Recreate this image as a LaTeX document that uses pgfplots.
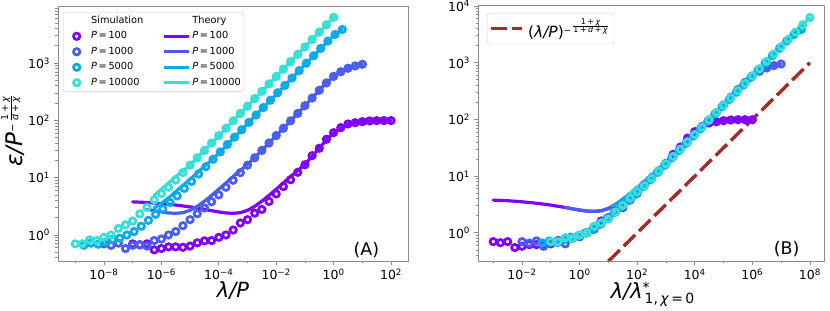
\documentclass[border=0pt]{standalone}
\usepackage{fontspec}
\setmainfont{DejaVu Sans}
\usepackage{pgfplots}
\usepackage{pgfplotstable}
\pgfplotsset{compat=1.18}

\definecolor{cA}{HTML}{8000FF}
\definecolor{cB}{HTML}{4A5CF7}
\definecolor{cC}{HTML}{0AA8EC}
\definecolor{cD}{HTML}{35E0D6}
\definecolor{brn}{HTML}{A52A2A}
\definecolor{spine}{HTML}{8C8C8C}

% small stacked fraction: raise, font size, numerator, denominator
\newcommand{\stfrac}[4]{\raisebox{#1}{\fontsize{#2}{#2}\selectfont\renewcommand\arraystretch{0.9}\setlength{\arrayrulewidth}{0.5bp}\begin{tabular}{@{}c@{}}#3\\\hline #4\end{tabular}}}

% simulations: lx = log10(lambda/P), y = error
\pgfplotstableread{
lx y
-7.00 0.70
-6.75 0.67
-6.50 0.70
-6.25 0.55
-6.00 0.58
-5.75 0.62
-5.50 0.62
-5.25 0.61
-5.00 0.64
-4.75 0.73
-4.50 0.79
-4.25 0.80
-4.00 0.91
-3.75 1.00
-3.50 1.22
-3.25 1.62
-3.00 1.85
-2.75 2.40
-2.50 2.80
-2.25 3.85
-2.00 5.20
-1.75 7.00
-1.50 9.20
-1.25 12.4
-1.00 16.8
-0.75 24.2
-0.50 32.6
-0.25 46.8
0.00 61.0
0.25 74.6
0.50 86.5
0.75 91.0
1.00 95.0
1.25 97.7
1.50 98.8
1.75 99.0
2.00 99.0
}\simA
\pgfplotstableread{
lx y
-8.00 0.70
-7.75 0.66
-7.50 0.72
-7.25 0.58
-7.00 0.66
-6.75 0.68
-6.50 0.64
-6.25 0.80
-6.00 0.85
-5.75 1.00
-5.50 1.15
-5.25 1.45
-5.00 1.85
-4.75 2.35
-4.50 2.95
-4.25 3.80
-4.00 5.00
-3.75 6.80
-3.50 9.00
-3.25 12.2
-3.00 16.5
-2.75 22.2
-2.50 29.9
-2.25 40.2
-2.00 54.1
-1.75 72.8
-1.50 98.0
-1.25 132
-1.00 180
-0.75 245
-0.50 335
-0.25 450
0.00 585
0.25 705
0.50 810
0.75 890
1.00 950
}\simB
\pgfplotstableread{
lx y
-8.70 0.66
-8.45 0.72
-8.20 0.69
-7.95 0.75
-7.70 0.84
-7.45 0.88
-7.20 1.00
-6.95 1.15
-6.70 1.42
-6.45 1.80
-6.20 2.30
-5.95 2.85
-5.70 3.70
-5.45 4.80
-5.20 6.50
-4.95 8.60
-4.70 11.6
-4.45 15.5
-4.20 20.9
-3.95 28.1
-3.70 37.9
-3.45 50.9
-3.20 68.6
-2.95 92.3
-2.70 124
-2.45 167
-2.20 225
-1.95 303
-1.70 407
-1.45 548
-1.20 738
-0.95 993
-0.70 1336
-0.45 1798
-0.20 2420
0.05 3150
0.30 3850
}\simC
\pgfplotstableread{
lx y
-9.00 0.70
-8.75 0.70
-8.50 0.82
-8.25 0.80
-8.00 0.91
-7.75 1.00
-7.50 1.30
-7.25 1.50
-7.00 1.75
-6.75 2.33
-6.50 3.04
-6.25 4.10
-6.00 5.30
-5.75 6.80
-5.50 9.10
-5.25 12.3
-5.00 16.5
-4.75 22.2
-4.50 29.9
-4.25 40.2
-4.00 54.1
-3.75 72.8
-3.50 98.0
-3.25 132
-3.00 177
-2.75 239
-2.50 321
-2.25 432
-2.00 582
-1.75 783
-1.50 1054
-1.25 1419
-1.00 1910
-0.75 2570
-0.50 3459
-0.25 4656
0.00 6266
}\simD
% theory
\pgfplotstableread{
lx y
-7.00 3.78
-6.50 3.69
-6.00 3.53
-5.50 3.33
-5.00 3.09
-4.50 2.80
-4.00 2.52
-3.75 2.42
-3.50 2.39
-3.25 2.45
-3.00 2.69
-2.75 3.16
-2.50 3.89
-2.25 4.90
-2.00 6.30
-1.75 8.10
-1.50 10.5
-1.25 13.3
-1.00 17.2
-0.75 23.5
-0.50 32.6
-0.25 46.0
0.00 60.0
0.25 74.0
0.50 86.0
0.75 92.0
1.00 95.5
1.25 97.5
1.50 98.5
1.75 99.0
2.00 99.3
}\thA
\pgfplotstableread{
lx y
-6.50 2.80
-6.00 2.52
-5.75 2.42
-5.50 2.39
-5.25 2.45
-5.00 2.69
-4.75 3.16
-4.50 3.89
-4.25 4.90
-4.00 6.30
-3.75 8.10
-3.50 10.5
-3.25 13.3
-3.00 17.0
-2.50 29.9
-2.00 54.1
-1.50 98.0
-1.00 180
-0.75 245
-0.50 335
-0.25 450
0.00 585
0.25 705
0.50 810
0.75 890
1.00 950
}\thB
\pgfplotstableread{
lx y
-6.25 2.95
-6.00 3.55
-5.75 4.47
-5.50 5.70
-5.25 7.30
-5.00 9.40
-4.75 12.2
-4.50 15.7
-4.00 26.5
-3.00 87.0
-2.00 285
-1.00 935
-0.50 1694
-0.20 2420
0.05 3150
0.30 3850
}\thC
\pgfplotstableread{
lx y
-6.25 4.90
-6.00 6.30
-5.75 8.10
-5.50 10.5
-5.25 13.0
-5.00 16.5
-4.00 54.1
-3.00 177
-2.00 582
-1.00 1910
0.00 6266
}\thD

\tikzset{
  simsty/.style={only marks, mark=o, mark size=3.2bp, line width=2.7bp},
  thsty/.style={line width=3.2bp, line join=round, line cap=round},
}

\begin{document}
\begin{tikzpicture}
\path[use as bounding box] (0bp,0bp) rectangle (830bp,311bp);

% ---------------- Panel A ----------------
\begin{axis}[xmode=log, ymode=log, scale only axis,
  tick pos=left, tick align=outside,
  axis line style={spine, line width=0.8bp},
  every tick/.style={spine, line width=0.8bp},
  major tick length=4.5bp, minor tick length=2.5bp,
  tick label style={font=\fontsize{12.5}{13}\selectfont},
  at={(58bp,50bp)}, anchor=south west, width=350bp, height=255bp,
  xmin=2.51e-10, xmax=389, ymin=0.3516, ymax=9886,
  xtick={1e-8,1e-6,1e-4,1e-2,1,1e2},
  xticklabels={10\textsuperscript{−8},10\textsuperscript{−6},10\textsuperscript{−4},10\textsuperscript{−2},10\textsuperscript{0},10\textsuperscript{2}},
  minor xtick={1e-9,1e-7,1e-5,1e-3,1e-1,10},
  ytick={1,10,100,1000},
  yticklabels={10\textsuperscript{0},10\textsuperscript{1},10\textsuperscript{2},10\textsuperscript{3}},
  minor ytick={0.4,0.5,0.6,0.7,0.8,0.9,2,3,4,5,6,7,8,9,20,30,40,50,60,70,80,90,200,300,400,500,600,700,800,900,2000,3000,4000,5000,6000,7000,8000,9000},
  legend columns=2, legend cell align=left,
  legend style={at={(0,1)}, anchor=north west, xshift=5bp, yshift=-6bp,
    draw=black!20, rounded corners=2.5bp, fill=white, fill opacity=0.8, text opacity=1,
    font=\fontsize{9.8}{10}\selectfont, inner xsep=1bp, inner ysep=2bp, row sep=2.3bp,
    nodes={inner sep=2bp, text height=7.2bp, text depth=2bp},
    /tikz/every even column/.append style={column sep=17bp}},
]
\addplot[simsty, cA, forget plot] table[x expr={10^(\thisrow{lx})}, y=y] {\simA};
\addplot[simsty, cB, forget plot] table[x expr={10^(\thisrow{lx})}, y=y] {\simB};
\addplot[simsty, cC, forget plot] table[x expr={10^(\thisrow{lx})}, y=y] {\simC};
\addplot[simsty, cD, forget plot] table[x expr={10^(\thisrow{lx})}, y=y] {\simD};
\addplot[thsty, no markers, cA, forget plot] table[x expr={10^(\thisrow{lx})}, y=y] {\thA};
\addplot[thsty, no markers, cB, forget plot] table[x expr={10^(\thisrow{lx})}, y=y] {\thB};
\addplot[thsty, no markers, cC, forget plot] table[x expr={10^(\thisrow{lx})}, y=y] {\thC};
\addplot[thsty, no markers, cD, forget plot] table[x expr={10^(\thisrow{lx})}, y=y] {\thD};

\addlegendimage{legend image code/.code={\path[draw=none,fill=none] (0bp,0bp) -- (25bp,0bp);}}\addlegendentry{Simulation}
\addlegendimage{legend image code/.code={\path[draw=none,fill=none] (0bp,0bp) -- (25bp,0bp);}}\addlegendentry{Theory}
\addlegendimage{legend image code/.code={\path[draw=none,fill=none] (0bp,0bp) -- (25bp,0bp); \draw[cA, line width=2.7bp, fill=none] (12.5bp,0bp) circle[radius=3.2bp];}}\addlegendentry{\textit{P}\,=\,100}
\addlegendimage{legend image code/.code={\draw[cA, line width=3.2bp] (0bp,0bp) -- (25bp,0bp);}}\addlegendentry{\textit{P}\,=\,100}
\addlegendimage{legend image code/.code={\path[draw=none,fill=none] (0bp,0bp) -- (25bp,0bp); \draw[cB, line width=2.7bp, fill=none] (12.5bp,0bp) circle[radius=3.2bp];}}\addlegendentry{\textit{P}\,=\,1000}
\addlegendimage{legend image code/.code={\draw[cB, line width=3.2bp] (0bp,0bp) -- (25bp,0bp);}}\addlegendentry{\textit{P}\,=\,1000}
\addlegendimage{legend image code/.code={\path[draw=none,fill=none] (0bp,0bp) -- (25bp,0bp); \draw[cC, line width=2.7bp, fill=none] (12.5bp,0bp) circle[radius=3.2bp];}}\addlegendentry{\textit{P}\,=\,5000}
\addlegendimage{legend image code/.code={\draw[cC, line width=3.2bp] (0bp,0bp) -- (25bp,0bp);}}\addlegendentry{\textit{P}\,=\,5000}
\addlegendimage{legend image code/.code={\path[draw=none,fill=none] (0bp,0bp) -- (25bp,0bp); \draw[cD, line width=2.7bp, fill=none] (12.5bp,0bp) circle[radius=3.2bp];}}\addlegendentry{\textit{P}\,=\,10000}
\addlegendimage{legend image code/.code={\draw[cD, line width=3.2bp] (0bp,0bp) -- (25bp,0bp);}}\addlegendentry{\textit{P}\,=\,10000}

\node[anchor=base, font=\fontsize{17.5}{18}\selectfont] at (rel axis cs:0.881,0.0235) {(A)};
\end{axis}

% ---------------- Panel B ----------------
\begin{axis}[xmode=log, ymode=log, scale only axis,
  tick pos=left, tick align=outside,
  axis line style={spine, line width=0.8bp},
  every tick/.style={spine, line width=0.8bp},
  major tick length=4.5bp, minor tick length=2.5bp,
  tick label style={font=\fontsize{12.5}{13}\selectfont},
  at={(478bp,50bp)}, anchor=south west, width=346bp, height=256bp,
  xmin=2.95e-4, xmax=3.09e8, ymin=0.319, ymax=10420,
  xtick={1e-2,1,1e2,1e4,1e6,1e8},
  xticklabels={10\textsuperscript{−2},10\textsuperscript{0},10\textsuperscript{2},10\textsuperscript{4},10\textsuperscript{6},10\textsuperscript{8}},
  minor xtick={1e-3,1e-1,10,1e3,1e5,1e7},
  ytick={1,10,100,1000,10000},
  yticklabels={10\textsuperscript{0},10\textsuperscript{1},10\textsuperscript{2},10\textsuperscript{3},10\textsuperscript{4}},
  minor ytick={0.4,0.5,0.6,0.7,0.8,0.9,2,3,4,5,6,7,8,9,20,30,40,50,60,70,80,90,200,300,400,500,600,700,800,900,2000,3000,4000,5000,6000,7000,8000,9000},
  legend cell align=left,
  legend image code/.code={\draw[#1] (0bp,0bp) -- (31.5bp,0bp);},
  legend style={at={(0,1)}, anchor=north west, xshift=9bp, yshift=-8bp,
    draw=black!20, rounded corners=2.5bp, fill=white, fill opacity=0.8, text opacity=1,
    font=\fontsize{15.5}{16}\selectfont, inner xsep=2bp, inner ysep=1bp,
    nodes={inner sep=4bp}},
]
\addplot[simsty, cA, forget plot] table[x expr={10^(\thisrow{lx}+4)}, y=y] {\simA};
\addplot[simsty, cB, forget plot] table[x expr={10^(\thisrow{lx}+6)}, y=y] {\simB};
\addplot[simsty, cC, forget plot] table[x expr={10^(\thisrow{lx}+7.398)}, y=y] {\simC};
\addplot[simsty, cD, forget plot] table[x expr={10^(\thisrow{lx}+8)}, y=y] {\simD};
\addplot[thsty, no markers, cA, forget plot] table[x expr={10^(\thisrow{lx}+4)}, y=y] {\thA};
\addplot[thsty, no markers, cB, forget plot] table[x expr={10^(\thisrow{lx}+6)}, y=y] {\thB};
\addplot[thsty, no markers, cC, forget plot] table[x expr={10^(\thisrow{lx}+7.398)}, y=y] {\thC};
\addplot[thsty, no markers, cD, forget plot] table[x expr={10^(\thisrow{lx}+8)}, y=y] {\thD};
\addplot[brn, no markers, line width=3.4bp, dash pattern=on 16bp off 5.5bp] coordinates {(10,0.3162) (1e8,1000)};
\addlegendentry{(\textit{λ/P})\raisebox{3.8bp}{\fontsize{8.5}{8.5}\selectfont −}\,\stfrac{9bp}{8}{1\hspace{1.5bp}+\hspace{1.5bp}\textit{χ}}{1\hspace{1.5bp}+\hspace{1.5bp}\textit{d}\hspace{1.5bp}+\hspace{1.5bp}\textit{χ}}}

\node[anchor=base, font=\fontsize{17.5}{18}\selectfont] at (rel axis cs:0.892,0.0235) {(B)};
\end{axis}

% axis labels
\node[anchor=base, font=\fontsize{21}{22}\selectfont] at (233bp,14bp) {\itshape λ/P};
\node[anchor=base, font=\fontsize{21}{22}\selectfont, inner sep=0pt] at (652.5bp,13bp) {\textit{λ/λ}\raisebox{5.5bp}{\fontsize{14}{14}\selectfont *}\hspace{-5bp}\raisebox{-5.5bp}{\fontsize{14}{14}\selectfont 1,\,\textit{χ}\,=\,0}};
\node[rotate=90, anchor=base west, font=\fontsize{23}{23}\selectfont] at (22bp,141bp) {\textit{ε/P}\raisebox{6.2bp}{\fontsize{10}{10}\selectfont −}\,\stfrac{8.6bp}{9.5}{1\hspace{2.2bp}+\hspace{2.2bp}\textit{χ}}{\textit{d}\hspace{2.2bp}+\hspace{2.2bp}\textit{χ}}};
\end{tikzpicture}
\end{document}
